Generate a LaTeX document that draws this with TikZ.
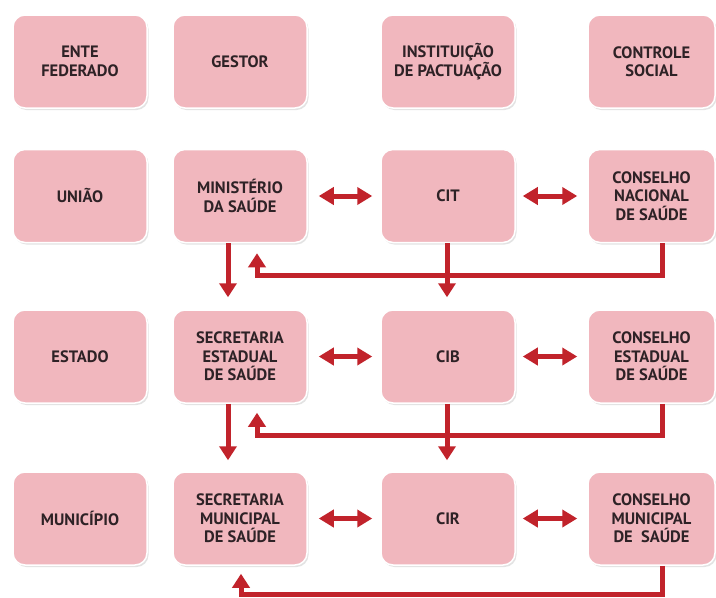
\documentclass[tikz,border=0pt]{standalone}
\usepackage{fontspec}
\setmainfont{PT Sans}
\usetikzlibrary{arrows.meta,shadows}
\definecolor{boxpink}{HTML}{F1B7BE}
\definecolor{arrowred}{HTML}{C1232B}
\definecolor{textdark}{HTML}{2E2226}
\begin{document}
\begin{tikzpicture}[x=1pt,y=-1pt,
  box/.style={rectangle, rounded corners=12pt, fill=boxpink, draw=white, line width=1.5pt,
    minimum width=134pt, minimum height=93pt, align=center, text=textdark, inner sep=0pt,
    font=\bfseries\fontsize{16.5}{18.5}\selectfont,
    drop shadow={opacity=0.22, shadow xshift=1.5pt, shadow yshift=-2pt}},
  flow/.style={draw=arrowred, line width=5pt, -{Triangle[width=17pt,length=14pt]}},
  both/.style={draw=arrowred, line width=5pt, {Triangle[width=17pt,length=15pt]}-{Triangle[width=17pt,length=15pt]}}
]
\useasboundingbox (0,0) rectangle (716,598);
\fill[white] (0,0) rectangle (716,598);
% row 1
\node[box] (ente) at (80,61.5) {ENTE\\FEDERADO};
\node[box] (gestor) at (240,61.5) {GESTOR};
\node[box] (inst) at (448,61.5) {INSTITUIÇÃO\\DE PACTUAÇÃO};
\node[box, minimum width=127pt] (ctrl) at (651.5,61.5) {CONTROLE\\SOCIAL};
% row 2
\node[box] (uniao) at (80,196) {UNIÃO};
\node[box] (ms) at (240,196) {MINISTÉRIO\\DA SAÚDE};
\node[box] (cit) at (448,196) {CIT};
\node[box, minimum width=127pt] (cns) at (651.5,196) {CONSELHO\\NACIONAL\\DE SAÚDE};
% row 3
\node[box] (estado) at (80,356.5) {ESTADO};
\node[box] (ses) at (240,356.5) {SECRETARIA\\ESTADUAL\\DE SAÚDE};
\node[box] (cib) at (448,356.5) {CIB};
\node[box, minimum width=127pt] (ces) at (651.5,356.5) {CONSELHO\\ESTADUAL\\DE SAÚDE};
% row 4
\node[box] (mun) at (80,518.5) {MUNICÍPIO};
\node[box] (sms) at (240,518.5) {SECRETARIA\\MUNICIPAL\\DE SAÚDE};
\node[box] (cir) at (448,518.5) {CIR};
\node[box, minimum width=127pt] (cms) at (651.5,518.5) {CONSELHO\\MUNICIPAL\\DE\ \ SAÚDE};
% horizontal double arrows
\draw[both] ([xshift=11pt]ms.east) -- ([xshift=-8pt]cit.west);
\draw[both] ([xshift=7pt]cit.east) -- ([xshift=-10pt]cns.west);
\draw[both] ([xshift=11pt]ses.east) -- ([xshift=-8pt]cib.west);
\draw[both] ([xshift=7pt]cib.east) -- ([xshift=-10pt]ces.west);
\draw[both] ([xshift=11pt]sms.east) -- ([xshift=-8pt]cir.west);
\draw[both] ([xshift=7pt]cir.east) -- ([xshift=-10pt]cms.west);
% downward arrows
\draw[flow] ([xshift=-12pt]ms.south) -- ([xshift=-12pt,yshift=12pt]ses.north);
\draw[flow] ([xshift=-1pt]cit.south) -- ([xshift=-1pt,yshift=12pt]cib.north);
\draw[flow] ([xshift=-12pt]ses.south) -- ([xshift=-12pt,yshift=11pt]sms.north);
\draw[flow] ([xshift=-1pt]cib.south) -- ([xshift=-1pt,yshift=11pt]cir.north);
% return lines from the councils
\draw[flow] ([xshift=10.5pt]cns.south) -- ++(0,32) -| ([xshift=17pt,yshift=-10pt]ms.south);
\draw[flow] ([xshift=10.5pt]ces.south) -- ++(0,32) -| ([xshift=17pt,yshift=-9pt]ses.south);
\draw[flow] ([xshift=10.5pt]cms.south) -- ++(0,29) -| ([xshift=1pt,yshift=-8pt]sms.south);
\end{tikzpicture}
\end{document}
